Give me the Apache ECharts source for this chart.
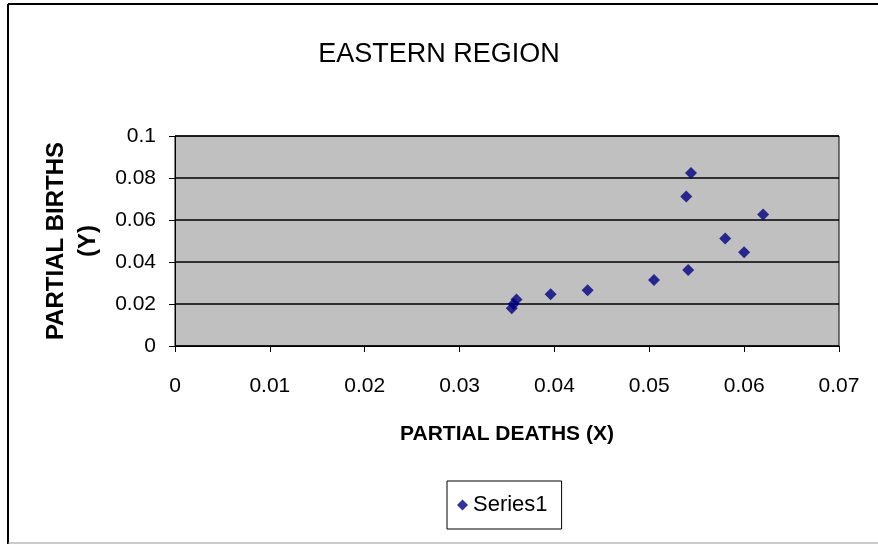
<!DOCTYPE html>
<html><head><meta charset="utf-8">
<script src="https://cdn.jsdelivr.net/npm/echarts@6/dist/echarts.min.js"></script>
<style>html,body{margin:0;padding:0;background:#fff}#c{width:878px;height:544px}</style>
</head><body><div id="c"></div>
<script>
var partialDeaths = [0.0355, 0.0357, 0.0360, 0.0396, 0.0435, 0.0505, 0.0541, 0.0539, 0.0544, 0.0580, 0.0600, 0.0620];
var partialBirths = [0.0180, 0.0200, 0.0222, 0.0247, 0.0266, 0.0314, 0.0362, 0.0712, 0.0824, 0.0512, 0.0447, 0.0626];
var seriesName = 'Series1';
var titleText = 'EASTERN REGION';
var xName = 'PARTIAL DEATHS (X)';
var yName = 'PARTIAL BIRTHS\n(Y)';

var pts = partialDeaths.map(function (x, i) { return [x, partialBirths[i]]; });
var font = 'Liberation Sans, Arial, sans-serif';
var chart = echarts.init(document.getElementById('c'), null, {renderer: 'canvas'});
chart.setOption({
  animation: false,
  backgroundColor: '#fff',
  title: {text: titleText, left: 'center', top: 36, textStyle: {fontFamily: font, fontSize: 27, fontWeight: 'normal', color: '#000'}},
  grid: {left: 175, right: 39, top: 136, bottom: 198, show: true, backgroundColor: '#C0C0C0', borderColor: '#000', borderWidth: 1},
  xAxis: {
    type: 'value', min: 0, max: 0.07, interval: 0.01,
    name: xName, nameLocation: 'middle', nameGap: 78,
    nameTextStyle: {fontFamily: font, fontSize: 21, fontWeight: 'bold', color: '#000'},
    axisLine: {onZero: false, lineStyle: {color: '#000', width: 1}},
    axisTick: {show: true, length: 6, lineStyle: {color: '#000'}},
    axisLabel: {fontFamily: font, fontSize: 21, color: '#000', margin: 30},
    splitLine: {show: false}
  },
  yAxis: {
    type: 'value', min: 0, max: 0.1, interval: 0.02,
    name: yName, nameLocation: 'middle', nameGap: 64, nameRotate: 90,
    nameTextStyle: {fontFamily: font, fontSize: 24, fontWeight: 'bold', color: '#000', lineHeight: 32},
    axisLine: {onZero: false, lineStyle: {color: '#000', width: 1}},
    axisTick: {show: true, length: 6, lineStyle: {color: '#000'}},
    axisLabel: {fontFamily: font, fontSize: 21, color: '#000', margin: 19},
    splitLine: {show: true, lineStyle: {color: '#000', width: 1.5}}
  },
  legend: {
    data: [{name: seriesName, icon: 'diamond'}],
    left: 447, top: 481,
    padding: [13, 14, 13, 10],
    itemWidth: 11, itemHeight: 11, itemGap: 6,
    borderColor: '#000', borderWidth: 1,
    textStyle: {fontFamily: font, fontSize: 22, color: '#000'}
  },
  series: [{
    name: seriesName, type: 'scatter', data: pts,
    symbol: 'diamond', symbolSize: 12,
    itemStyle: {color: '#000080'}
  }],
  graphic: [
    {type: 'line', shape: {x1: 8, y1: 4, x2: 878, y2: 4}, style: {stroke: '#000', lineWidth: 2}},
    {type: 'line', shape: {x1: 8, y1: 4, x2: 8, y2: 544}, style: {stroke: '#000', lineWidth: 2}},
    {type: 'line', shape: {x1: 8, y1: 543, x2: 878, y2: 543}, style: {stroke: '#999', lineWidth: 1}}
  ]
});
</script></body></html>
